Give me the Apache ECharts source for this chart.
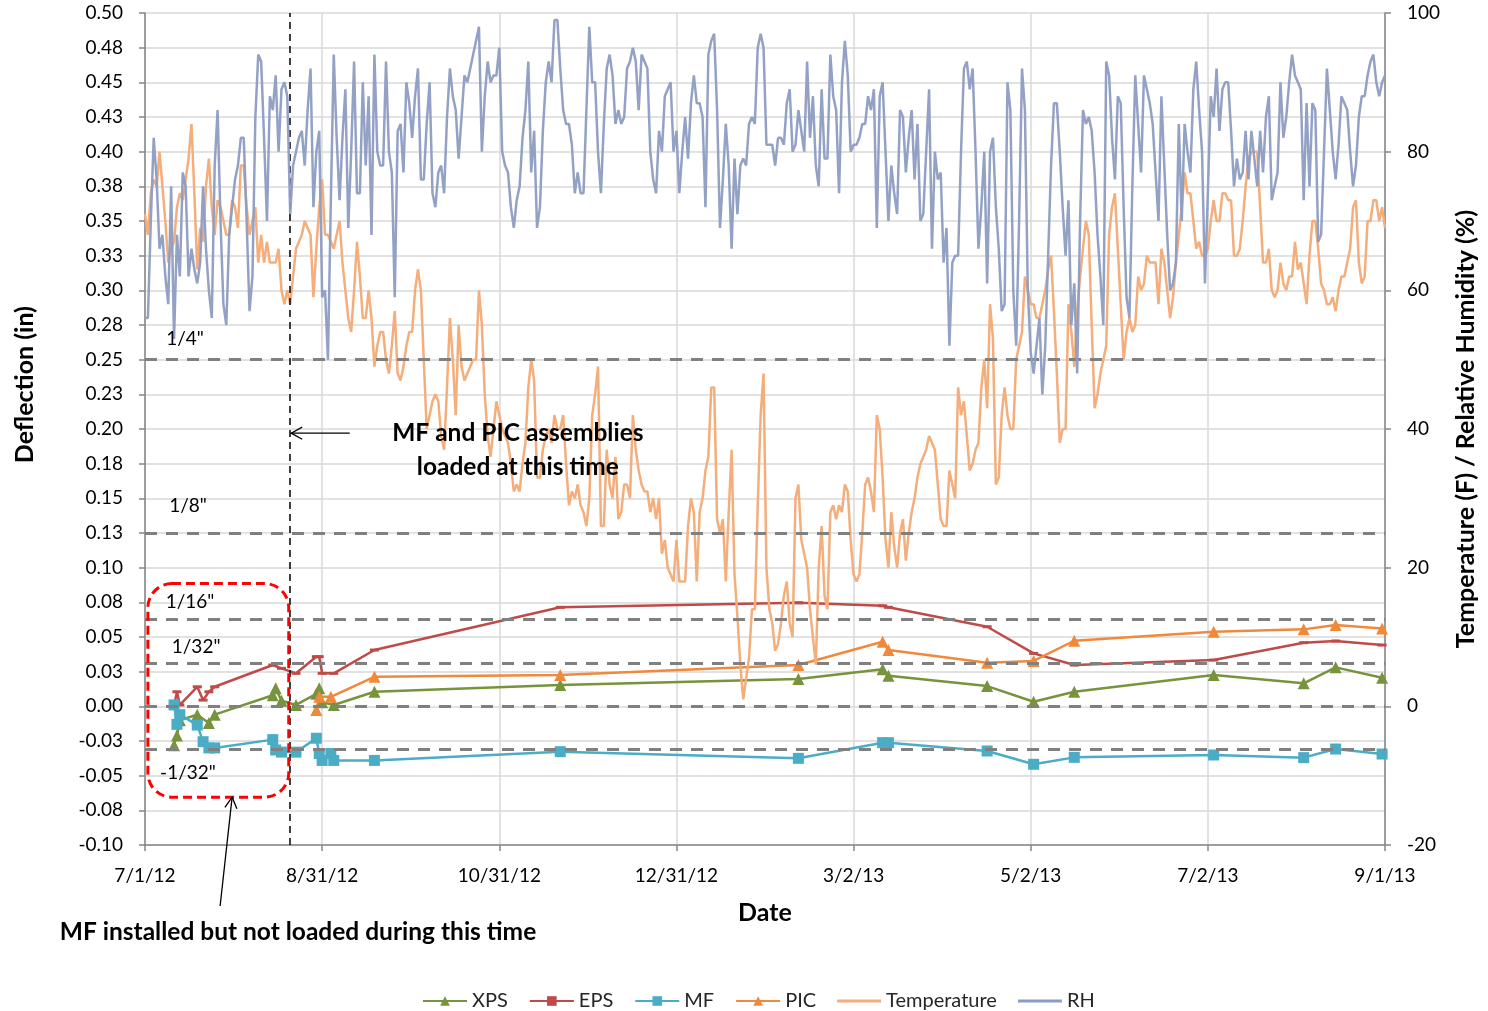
<!DOCTYPE html>
<html>
<head>
<meta charset="utf-8">
<title>Deflection, Temperature and RH</title>
<script src="https://cdn.jsdelivr.net/npm/echarts/dist/echarts.min.js"></script>
<style>
  html, body { margin: 0; padding: 0; background: #ffffff; }
  #chart { width: 1488px; height: 1011px; }
</style>
</head>
<body>
<div id="chart"></div>
<script>
// ---- data ------------------------------------------------------------
const origin = '2012-07-01';          // day 0 of the date axis
const axisEndDay = 427;               // 9/1/13
const axisStepDays = 61;

// deflection readings (in)
const readingDates = [
  '2012-07-11','2012-07-12','2012-07-13','2012-07-19','2012-07-21','2012-07-23','2012-07-25',
  '2012-08-14','2012-08-15','2012-08-17','2012-08-22','2012-08-29','2012-08-30','2012-08-31',
  '2012-09-03','2012-09-04','2012-09-18','2012-11-21','2013-02-11','2013-03-12','2013-03-14',
  '2013-04-17','2013-05-03','2013-05-17','2013-07-04','2013-08-04','2013-08-15','2013-08-31'
];
const xps = [
  -0.028, -0.021, -0.010, -0.006, null, -0.012, -0.006,
  0.008, 0.013, 0.004, 0.001, 0.009, 0.013, 0.003,
  null, 0.001, 0.0105, 0.0154, 0.0197, 0.0267, 0.0221,
  0.0146, 0.0033, 0.0105, 0.0226, 0.0166, 0.0281, 0.0206
];
const eps = [
  0.000, 0.0105, 0.001, 0.0141, 0.0045, 0.0105, 0.0141,
  0.0298, null, 0.0274, 0.0238, 0.0358, 0.0358, 0.0238,
  null, 0.0238, 0.0406, 0.0714, 0.0747, 0.0725, 0.0714,
  0.0574, 0.0382, 0.0298, 0.0334, 0.0459, 0.0471, 0.0442
];
const mf = [
  0.001, -0.013, -0.006, -0.0135, -0.0255, -0.030, -0.030,
  -0.024, -0.0315, -0.033, -0.033, -0.023, -0.034, -0.039,
  -0.034, -0.039, -0.039, -0.0327, -0.0375, -0.0262, -0.0262,
  -0.0322, -0.0418, -0.0368, -0.0351, -0.037, -0.0308, -0.0344
];
const pic = [
  null, null, null, null, null, null, null,
  null, null, null, null, -0.0027, 0.0069, null,
  0.0069, null, 0.0213, 0.0226, 0.0298, 0.0466, 0.0406,
  0.0314, 0.0327, 0.0473, 0.0538, 0.0555, 0.0586, 0.0562
];

// daily weather, one value per day from weatherStart
const weatherStart = '2012-07-01';
const temperature = [
  71,68,74,76,75,80,75,70,64,66, 67,72,74,73,76,79,84,74,63,69,
  67,75,79,72,68,73,72,70,68,68, 73,72,69,78,78,72,68,70,72,64,
  68,64,67,64,64,64,66,60,58,60, 58,62,66,67,68,70,69,68,59,66,
  72,76,68,68,67,66,68,70,64,60, 56,54,60,67,62,56,56,60,56,49,
  52,54,54,50,48,52,57,48,47,49, 52,54,54,60,63,60,50,40,42,44,
  45,44,39,37,46,56,50,42,55,49, 47,48,49,50,50,60,55,45,39,36,
  40,44,42,40,39,38,35,31,32,31, 35,38,46,50,47,33,33,37,39,40,
  38,42,40,40,42,35,29,31,30,32, 29,28,26,30,42,45,49,26,26,37,
  32,30,36,27,28,32,32,30,42,37, 34,32,31,31,28,30,27,30,22,24,
  20,19,18,24,18,18,18,26,30,28, 18,28,30,34,36,46,46,27,25,27,
  18,28,37,19,13,6,1,4,7,14,     14,29,42,48,20,14,12,8,9,12,
  16,18,12,10,30,32,24,22,20,14, 10,6,20,26,16,14,28,29,27,29,
  28,32,31,24,19,18,19,25,32,33, 31,28,42,40,33,24,20,28,23,20,
  25,27,21,25,28,30,33,35,36,37, 39,38,37,32,27,26,26,34,32,30,
  46,42,44,39,34,35,37,38,46,50, 43,58,53,32,33,42,46,42,40,40,
  50,52,54,62,60,58,58,56,56,58, 60,63,65,57,48,38,40,40,58,54,
  49,57,62,66,70,68,55,43,45,48, 50,52,68,72,74,66,58,50,54,56,
  54,55,62,60,61,65,64,64,64,58, 66,64,60,56,59,64,68,72,77,74,
  74,70,66,67,65,65,66,70,73,70, 70,74,74,73,73,65,65,66,70,75,
  79,80,80,80,72,64,64,66,60,59, 60,64,61,60,62,62,67,63,64,61,
  58,65,70,70,66,61,60,58,58,59, 57,60,62,62,64,66,72,73,64,61,
  62,70,70,73,73,70,72,69
];
const humidity = [
  56,56,70,82,76,66,68,62,58,75, 53,68,62,77,75,62,66,63,61,64,
  75,66,60,56,78,86,70,58,55,68, 72,76,78,82,82,70,57,62,85,94,
  93,82,70,88,86,91,80,89,90,88, 71,78,80,82,83,78,86,92,72,80,
  83,59,60,50,73,94,82,73,82,89, 69,80,93,74,74,90,78,88,68,94,
  80,78,78,93,80,77,59,83,84,77, 90,87,82,88,92,76,76,84,90,74,
  72,77,78,74,85,92,88,86,79,85, 91,90,92,94,96,98,80,88,93,90,
  91,91,95,80,78,77,72,69,73,75, 82,86,93,77,83,69,72,83,90,93,
  90,99,99,92,86,84,84,81,74,77, 74,74,86,98,90,90,80,74,84,92,
  94,91,84,86,84,85,92,93,95,93, 86,94,93,92,80,76,74,83,80,88,
  89,90,80,83,74,80,85,79,87,91, 87,87,85,72,94,96,97,86,69,76,
  84,78,66,79,71,78,79,78,84,85, 84,95,97,95,81,81,81,78,82,82,
  81,87,89,80,81,86,83,80,93,82, 88,78,75,89,79,79,94,88,86,74,
  90,96,91,80,81,81,82,84,84,88, 86,89,69,88,90,80,70,78,74,71,
  86,85,77,82,86,76,84,70,71,80, 89,66,80,76,77,64,69,52,64,65,
  65,80,92,93,89,92,80,66,72,80, 61,80,82,72,66,57,58,90,86,60,
  52,70,92,86,60,51,48,52,56,45, 52,65,78,87,87,80,72,65,73,55,
  61,48,70,86,84,85,83,77,68,62, 55,93,91,82,76,88,87,72,59,56,
  75,91,84,77,91,89,87,84,77,70, 88,78,68,60,61,64,84,70,84,80,
  77,89,93,86,80,61,74,88,85,92, 83,89,90,90,83,75,79,76,77,83,
  76,83,79,75,83,77,85,88,73,75, 77,90,82,85,90,94,91,90,89,73,
  87,75,87,86,67,68,80,92,86,80, 76,81,88,87,86,80,75,78,85,88,
  88,91,93,94,90,88,90,91
];

// reference deflections and their captions
const refValues = [0.25, 0.125, 0.0625, 0.03125, 0, -0.03125];
const refCaptions = ['1/4"', '1/8"', '1/16"', '1/32"', '', '-1/32"'];
const loadingDate = '2012-08-20';

// ---- helpers ---------------------------------------------------------
const DAY = 86400000;
const dayOf = s => Math.round((Date.parse(s + 'T00:00:00Z') - Date.parse(origin + 'T00:00:00Z')) / DAY);
const dateLabel = v => {
  const d = new Date(Date.parse(origin + 'T00:00:00Z') + Math.round(v) * DAY);
  return (d.getUTCMonth() + 1) + '/' + d.getUTCDate() + '/' + String(d.getUTCFullYear()).slice(2);
};
const twoDp = v => {
  const r = Math.sign(v) * Math.round(Math.abs(v) * 100 + 1e-6) / 100;
  return (r === 0 ? 0 : r).toFixed(2);
};
const readings = vals => readingDates.map((d, i) => [dayOf(d), vals[i]]).filter(p => p[1] != null);
const daily = vals => { const s = dayOf(weatherStart); return vals.map((v, i) => [s + i, v]); };

const FONT = 'Lato, "Liberation Sans", sans-serif';
const C = {
  xps: '#77933C', eps: '#BE4B48', mf: '#4BACC6', pic: '#F0893B',
  temp: '#F4AE7C', rh: '#8D9CC2', grid: '#D9D9D9', axis: '#868686', ref: '#808080'
};
// plain stripe used as the legend icon of the unmarked weather lines
const stripeIcon = 'path://M0,0 M0,12 M0,4.6 L44,4.6 L44,7.4 L0,7.4 Z';

function deflSeries(name, vals, color, symbol, size) {
  return {
    name, type: 'line', data: readings(vals), yAxisIndex: 0, z: 3,
    symbol, symbolSize: size, showSymbol: true,
    lineStyle: { color, width: 2.5 }, itemStyle: { color },
    emphasis: { disabled: true }
  };
}

const option = {
  animation: false,
  backgroundColor: '#ffffff',
  textStyle: { fontFamily: FONT },
  grid: { left: 145, right: 103, top: 13, bottom: 166, containLabel: false },
  legend: {
    left: 417, top: 986,
    itemWidth: 44, itemHeight: 12, itemGap: 21,
    textStyle: { fontFamily: FONT, fontSize: 20, color: '#262626' },
    data: ['XPS', 'EPS', 'MF', 'PIC',
      { name: 'Temperature', icon: stripeIcon },
      { name: 'RH', icon: stripeIcon }]
  },
  xAxis: {
    type: 'value', min: 0, max: axisEndDay, interval: axisStepDays,
    name: 'Date', nameLocation: 'middle', nameGap: 55,
    nameTextStyle: { fontFamily: FONT, fontSize: 25, fontWeight: 'bold', color: '#000' },
    axisLine: { show: true, onZero: false, lineStyle: { color: C.axis, width: 1.5 } },
    axisTick: { show: true, length: 6, lineStyle: { color: C.axis, width: 1.5 } },
    axisLabel: { formatter: dateLabel, fontFamily: FONT, fontSize: 19, color: '#000', margin: 21 },
    splitLine: { show: true, lineStyle: { color: C.grid, width: 1.5 } }
  },
  yAxis: [
    {
      type: 'value', min: -0.1, max: 0.5, interval: 0.025, position: 'left',
      axisLine: { show: true, lineStyle: { color: C.axis, width: 1.5 } },
      axisTick: { show: true, length: 6, lineStyle: { color: C.axis, width: 1.5 } },
      axisLabel: { formatter: twoDp, fontFamily: FONT, fontSize: 19, color: '#000', margin: 22 },
      splitLine: { show: true, lineStyle: { color: C.grid, width: 1.5 } }
    },
    {
      type: 'value', min: -20, max: 100, interval: 20, position: 'right',
      name: 'Temperature (F) / Relative Humidity (%)', nameLocation: 'middle', nameGap: 68, nameRotate: 90,
      nameTextStyle: { fontFamily: FONT, fontSize: 25, fontWeight: 'bold', color: '#000' },
      axisLine: { show: true, lineStyle: { color: C.axis, width: 1.5 } },
      axisTick: { show: true, length: 6, lineStyle: { color: C.axis, width: 1.5 } },
      axisLabel: { fontFamily: FONT, fontSize: 19, color: '#000', margin: 22 },
      splitLine: { show: false }
    }
  ],
  series: [
    {
      name: 'refs', type: 'line', data: [], yAxisIndex: 0, z: 1, silent: true,
      markLine: {
        silent: true, precision: 6, symbol: ['none', 'none'], label: { show: false },
        lineStyle: { color: C.ref, width: 3, type: [12, 9] },
        data: refValues.map(v => ({ yAxis: v }))
      }
    },
    {
      name: 'loading', type: 'line', data: [], yAxisIndex: 0, z: 6, silent: true,
      markLine: {
        silent: true, precision: 6, symbol: ['none', 'none'], label: { show: false },
        lineStyle: { color: '#000000', width: 1.5, type: [7, 5] },
        data: [{ xAxis: dayOf(loadingDate) }]
      }
    },
    deflSeries('XPS', xps, C.xps, 'triangle', 12),
    deflSeries('EPS', eps, C.eps, 'rect', [9, 3]),
    deflSeries('MF', mf, C.mf, 'rect', 11),
    deflSeries('PIC', pic, C.pic, 'triangle', 12),
    {
      name: 'Temperature', type: 'line', yAxisIndex: 1, data: daily(temperature), z: 4,
      symbol: 'none', lineStyle: { color: C.temp, width: 2.5 }, itemStyle: { color: C.temp },
      emphasis: { disabled: true }
    },
    {
      name: 'RH', type: 'line', yAxisIndex: 1, data: daily(humidity), z: 5,
      symbol: 'none', lineStyle: { color: C.rh, width: 2.5, opacity: 0.95 }, itemStyle: { color: C.rh },
      emphasis: { disabled: true }
    }
  ]
};

const chart = echarts.init(document.getElementById('chart'));
chart.setOption(option);

// ---- annotations anchored to the data scales --------------------------
const px = (day, v) => chart.convertToPixel({ gridIndex: 0 }, [day, v]);

function arrow(from, to, head) {
  const dx = to[0] - from[0], dy = to[1] - from[1];
  const len = Math.hypot(dx, dy), ux = dx / len, uy = dy / len;
  const w = head * 0.55;
  const a = [to[0] - ux * head + uy * w, to[1] - uy * head - ux * w];
  const b = [to[0] - ux * head - uy * w, to[1] - uy * head + ux * w];
  return [
    { type: 'line', silent: true, z: 100, shape: { x1: from[0], y1: from[1], x2: to[0], y2: to[1] },
      style: { stroke: '#000', lineWidth: 1.3 } },
    { type: 'polyline', silent: true, z: 100, shape: { points: [a, to, b] },
      style: { stroke: '#000', lineWidth: 1.3, fill: 'none' } }
  ];
}

function text(str, pos, size, bold, lineHeight, rotation) {
  return {
    type: 'text', silent: true, z: 100, x: pos[0], y: pos[1], rotation: rotation || 0,
    style: {
      text: str, fill: '#000', fontFamily: FONT, fontSize: size,
      fontWeight: bold ? 'bold' : 'normal', align: 'center', verticalAlign: 'middle',
      lineHeight: lineHeight || Math.round(size * 1.4)
    }
  };
}

const loadDay = dayOf(loadingDate);
const boxTL = px(1, 0.0885), boxBR = px(loadDay - 0.5, -0.0655);
const captionAt = [[13.8, 0.265], [14.8, 0.1445], [15.5, 0.0753], [17.6, 0.0428], null, [14.8, -0.048]];
const arrowY = px(0, 0.197)[1];
const noteCenter = px(128.4, 0.1848);
const tip = [px(30, 0)[0], boxBR[1]];
const leftTitleY = px(0, 0.232)[1];

const graphics = [
  { type: 'rect', silent: true, z: 90,
    shape: { x: boxTL[0], y: boxTL[1], width: boxBR[0] - boxTL[0], height: boxBR[1] - boxTL[1], r: 24 },
    style: { fill: 'none', stroke: '#FF0000', lineWidth: 3, lineDash: [9, 5] } },
  ...arrow([px(70.5, 0)[0], arrowY], [px(loadDay, 0)[0] + 1, arrowY], 11),
  text('MF and PIC assemblies\nloaded at this time', noteCenter, 24.5, true, 34),
  ...arrow([tip[0] - 12, 906], tip, 11),
  text('MF installed but not loaded during this time', [298, 932], 24.5, true),
  text('Deflection (in)', [25, leftTitleY], 25, true, 30, Math.PI / 2)
];
refCaptions.forEach((c, i) => {
  if (c && captionAt[i]) graphics.push(text(c, px(captionAt[i][0], captionAt[i][1]), 19, false));
});
chart.setOption({ graphic: graphics });
</script>
</body>
</html>
